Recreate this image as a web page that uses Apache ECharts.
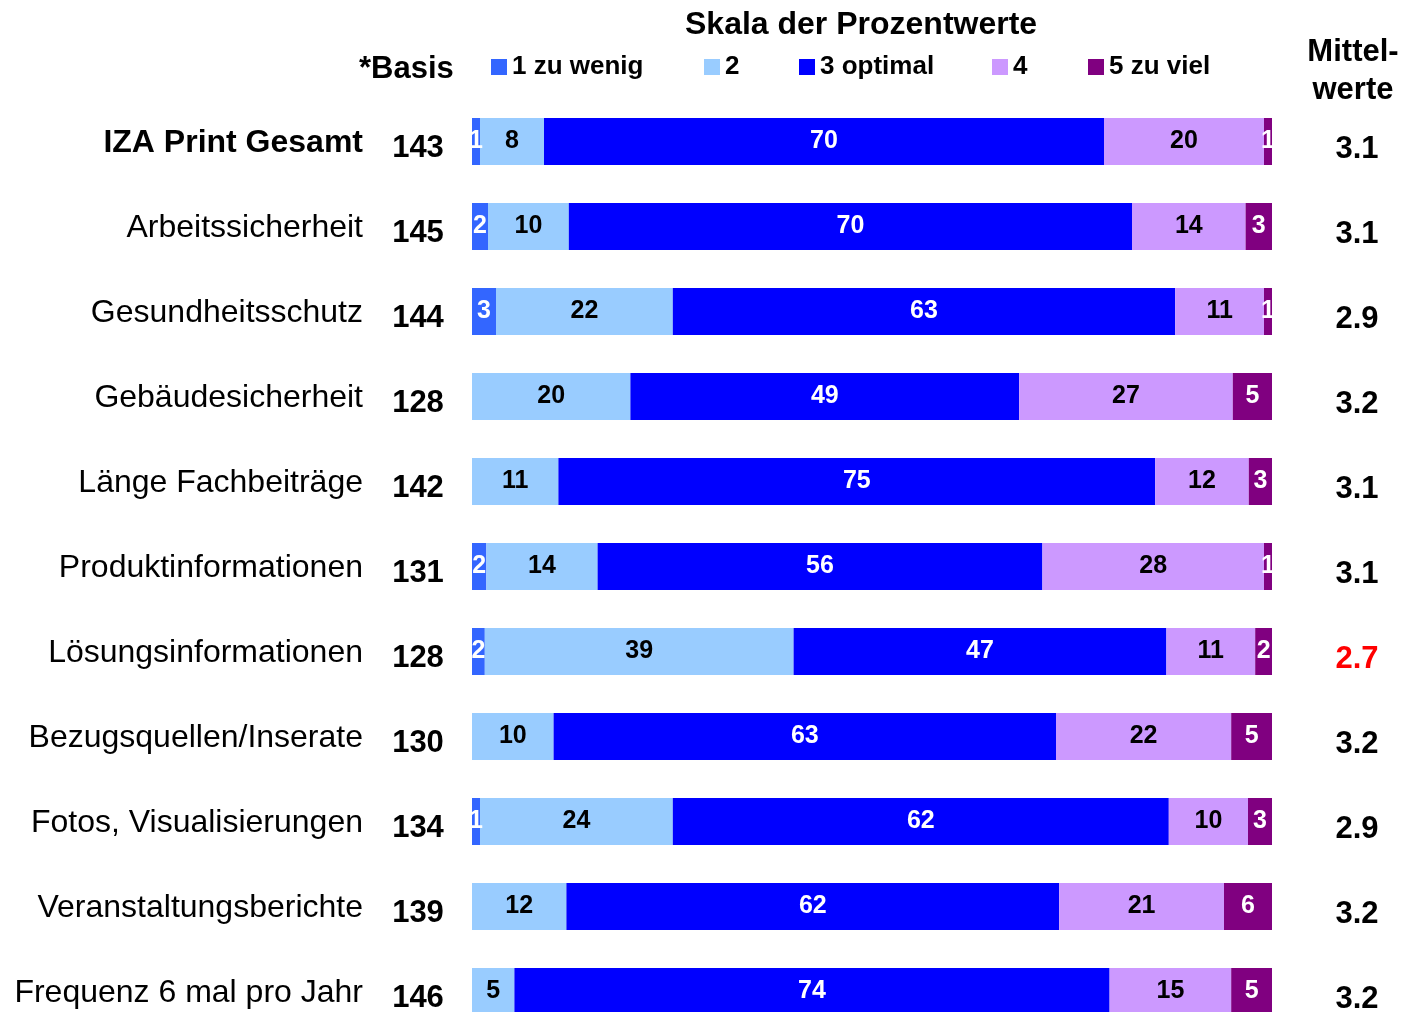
<!DOCTYPE html>
<html>
<head>
<meta charset="utf-8">
<script src="https://cdn.jsdelivr.net/npm/echarts@6/dist/echarts.min.js"></script>
<style>
  html, body { margin: 0; padding: 0; background: #fff; }
  #chart { width: 1408px; height: 1012px; }
</style>
</head>
<body>
<div id="chart"></div>
<script>
// Kategorien (oben nach unten)
const categories = [
  'IZA Print Gesamt', 'Arbeitssicherheit', 'Gesundheitsschutz', 'Gebäudesicherheit',
  'Länge Fachbeiträge', 'Produktinformationen', 'Lösungsinformationen',
  'Bezugsquellen/Inserate', 'Fotos, Visualisierungen', 'Veranstaltungsberichte',
  'Frequenz 6 mal pro Jahr'
]
const basis = [143, 145, 144, 128, 142, 131, 128, 130, 134, 139, 146]
const means = ['3.1', '3.1', '2.9', '3.2', '3.1', '3.1', '2.7', '3.2', '2.9', '3.2', '3.2']

// Prozentwerte je Skalenstufe (aus Balkenbreiten geschaetzt)
const s1 = [1.0, 2.0, 3.0, 0, 0, 1.8, 1.6, 0, 1.0, 0, 0]
const s2 = [8.0, 10.1, 22.1, 19.8, 10.8, 13.9, 38.6, 10.2, 24.1, 11.8, 5.3]
const s3 = [70.0, 70.4, 62.8, 48.6, 74.6, 55.6, 46.6, 62.8, 62.0, 61.6, 74.4]
const s4 = [20.0, 14.2, 11.1, 26.7, 11.7, 27.7, 11.1, 21.9, 9.9, 20.6, 15.2]
const s5 = [1.0, 3.3, 1.0, 4.9, 2.9, 1.0, 2.1, 5.1, 3.0, 6.0, 5.1]

const seriesNames = ['1 zu wenig', '2', '3 optimal', '4', '5 zu viel']
const colors = ['#3366FF', '#99CCFF', '#0000FF', '#CC99FF', '#800080']
const labelColors = ['#fff', '#000', '#fff', '#000', '#fff']
const legendLeft = [486, 699, 794, 987, 1083]

const FONT = '"Liberation Sans", Arial, sans-serif'

const allData = [s1, s2, s3, s4, s5]
const series = []
for (let i = 0; i < 5; i++) {
  series.push({
    name: seriesNames[i],
    type: 'bar',
    stack: 'total',
    barWidth: 47,
    yAxisIndex: 0,
    itemStyle: { color: colors[i] },
    label: {
      show: true,
      position: 'inside',
      color: labelColors[i],
      fontFamily: FONT,
      fontWeight: 'bold',
      fontSize: 25,
      formatter: (p) => (p.value > 0 ? Math.round(p.value) : '')
    },
    data: allData[i]
  })
}

const legends = seriesNames.map((n, i) => ({
  data: [n],
  left: legendLeft[i],
  top: 49,
  itemWidth: 16,
  itemHeight: 16,
  icon: 'rect',
  selectedMode: false,
  textStyle: { fontFamily: FONT, fontWeight: 'bold', fontSize: 26, color: '#000' }
}))

// gemeinsame Einstellungen fuer die drei Kategorie-Achsen
const catAxis = {
  type: 'category',
  inverse: true,
  boundaryGap: false,
  axisLine: { show: false },
  axisTick: { show: false },
  splitLine: { show: false }
}

var myChart = echarts.init(document.getElementById('chart'))
myChart.setOption({
  animation: false,
  textStyle: { fontFamily: FONT },
  legend: legends,
  graphic: [
    { type: 'text', left: 685, top: 9, style: { text: 'Skala der Prozentwerte', font: 'bold 32px ' + FONT, fill: '#000' } },
    { type: 'text', left: 359, top: 54, style: { text: '*Basis', font: 'bold 31px ' + FONT, fill: '#000' } },
    { type: 'text', x: 1353, y: 33, style: { text: 'Mittel-\nwerte', font: 'bold 31px ' + FONT, fill: '#000', align: 'center', lineHeight: 38 } }
  ],
  grid: { left: 472, top: 141.5, width: 800, height: 850, outerBoundsMode: 'none' },
  xAxis: { type: 'value', min: 0, max: 100, show: false },
  yAxis: [
    Object.assign({}, catAxis, {
      data: categories,
      axisLabel: {
        margin: 109,
        color: '#000',
        formatter: (v, i) => (i === 0 ? '{b|' + v + '}' : '{n|' + v + '}'),
        rich: {
          b: { fontWeight: 'bold', fontSize: 32, fontFamily: FONT, color: '#000', padding: [3, 0, 0, 0] },
          n: { fontWeight: 'normal', fontSize: 32, fontFamily: FONT, color: '#000', padding: [3, 0, 0, 0] }
        }
      }
    }),
    Object.assign({}, catAxis, {
      position: 'left',
      data: basis,
      axisLabel: {
        margin: 54,
        align: 'center',
        formatter: (v) => '{a|' + v + '}',
        rich: { a: { fontSize: 31, fontWeight: 'bold', fontFamily: FONT, color: '#000', padding: [14, 0, 0, 0] } }
      }
    }),
    Object.assign({}, catAxis, {
      position: 'right',
      data: means,
      axisLabel: {
        margin: 85,
        align: 'center',
        formatter: (v, i) => (i === 6 ? '{r|' + v + '}' : '{a|' + v + '}'),
        rich: {
          a: { fontSize: 31, fontWeight: 'bold', fontFamily: FONT, color: '#000', padding: [16, 0, 0, 0] },
          r: { fontSize: 31, fontWeight: 'bold', fontFamily: FONT, color: '#FF0000', padding: [16, 0, 0, 0] }
        }
      }
    })
  ],
  series: series
})
</script>
</body>
</html>
